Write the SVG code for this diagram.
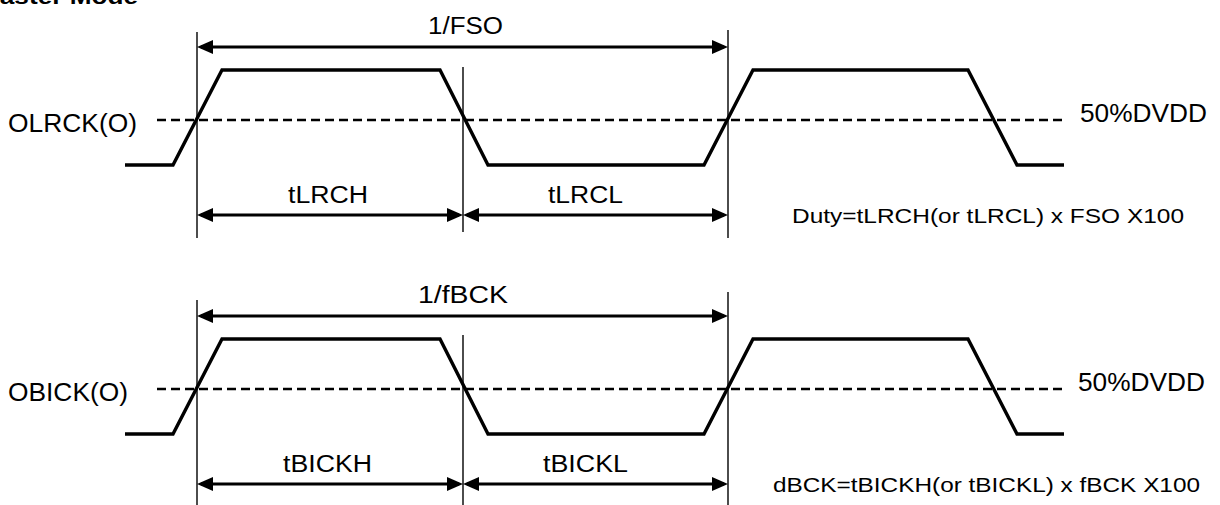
<svg xmlns="http://www.w3.org/2000/svg" width="1220" height="505" viewBox="0 0 1220 505">
<style>
.wave{fill:none;stroke:#000;stroke-width:3.4;stroke-linejoin:miter}
.dash{fill:none;stroke:#000;stroke-width:2.6;stroke-dasharray:9 5}
.ref{stroke:#000;stroke-width:1.4}
.dim{stroke:#000;stroke-width:3;marker-start:url(#ah);marker-end:url(#ah)}
text{font-family:"Liberation Sans",Arial,Helvetica,sans-serif;fill:#000}
.lbl{font-size:23px}
.sig{font-size:26px}
.note{font-size:21px}
.title{font-size:22px;font-weight:bold}
</style>
<defs>
<marker id="ah" markerUnits="userSpaceOnUse" markerWidth="17" markerHeight="15" refX="12" refY="7.5" orient="auto-start-reverse">
<path d="M0,0.5 L16,7.5 L0,14.5 z" fill="#000"/>
</marker>
</defs>
<text class="title" x="-22" y="4" textLength="160" lengthAdjust="spacingAndGlyphs">Master Mode</text>

<g id="olrck">
<text class="sig" x="8" y="132" textLength="129" lengthAdjust="spacingAndGlyphs">OLRCK(O)</text>
<line class="dash" x1="157" y1="120" x2="1066" y2="120"/>
<polyline class="wave" points="125,165 173,165 222,70 440,70 488,165 704,165 753,70 968,70 1017,165 1064,165"/>
<text class="sig" x="1080" y="122" textLength="127" lengthAdjust="spacingAndGlyphs">50%DVDD</text>
<text class="note" x="792" y="223" textLength="392" lengthAdjust="spacingAndGlyphs">Duty=tLRCH(or tLRCL) x FSO X100</text>
</g>

<g id="obick">
<text class="sig" x="8" y="401" textLength="120" lengthAdjust="spacingAndGlyphs">OBICK(O)</text>
<line class="dash" x1="157" y1="389" x2="1066" y2="389"/>
<polyline class="wave" points="125,434 173,434 222,339 440,339 488,434 704,434 753,339 968,339 1017,434 1064,434"/>
<text class="sig" x="1078" y="391" textLength="127" lengthAdjust="spacingAndGlyphs">50%DVDD</text>
<text class="note" x="773" y="492" textLength="427" lengthAdjust="spacingAndGlyphs">dBCK=tBICKH(or tBICKL) x fBCK X100</text>
</g>

<g id="connectors">
<line class="ref" x1="197" y1="32" x2="197" y2="238"/>
<line class="ref" x1="463" y1="67" x2="463" y2="232"/>
<line class="ref" x1="728" y1="30" x2="728" y2="238"/>
<line class="dim" x1="201" y1="47" x2="724" y2="47"/>
<line class="dim" x1="201" y1="215" x2="459" y2="215"/>
<line class="dim" x1="467" y1="215" x2="724" y2="215"/>

<line class="ref" x1="197" y1="300" x2="197" y2="505"/>
<line class="ref" x1="463" y1="335" x2="463" y2="505"/>
<line class="ref" x1="728" y1="292" x2="728" y2="505"/>
<line class="dim" x1="201" y1="316" x2="724" y2="316"/>
<line class="dim" x1="201" y1="484" x2="459" y2="484"/>
<line class="dim" x1="467" y1="484" x2="724" y2="484"/>
</g>

<g id="labels">
<text class="lbl" x="428" y="34" textLength="75" lengthAdjust="spacingAndGlyphs">1/FSO</text>
<text class="lbl" x="288" y="203" textLength="80" lengthAdjust="spacingAndGlyphs">tLRCH</text>
<text class="lbl" x="548" y="203" textLength="75" lengthAdjust="spacingAndGlyphs">tLRCL</text>
<text class="lbl" x="418" y="303" textLength="90" lengthAdjust="spacingAndGlyphs">1/fBCK</text>
<text class="lbl" x="283" y="472" textLength="89" lengthAdjust="spacingAndGlyphs">tBICKH</text>
<text class="lbl" x="543" y="472" textLength="85" lengthAdjust="spacingAndGlyphs">tBICKL</text>
</g>
</svg>
